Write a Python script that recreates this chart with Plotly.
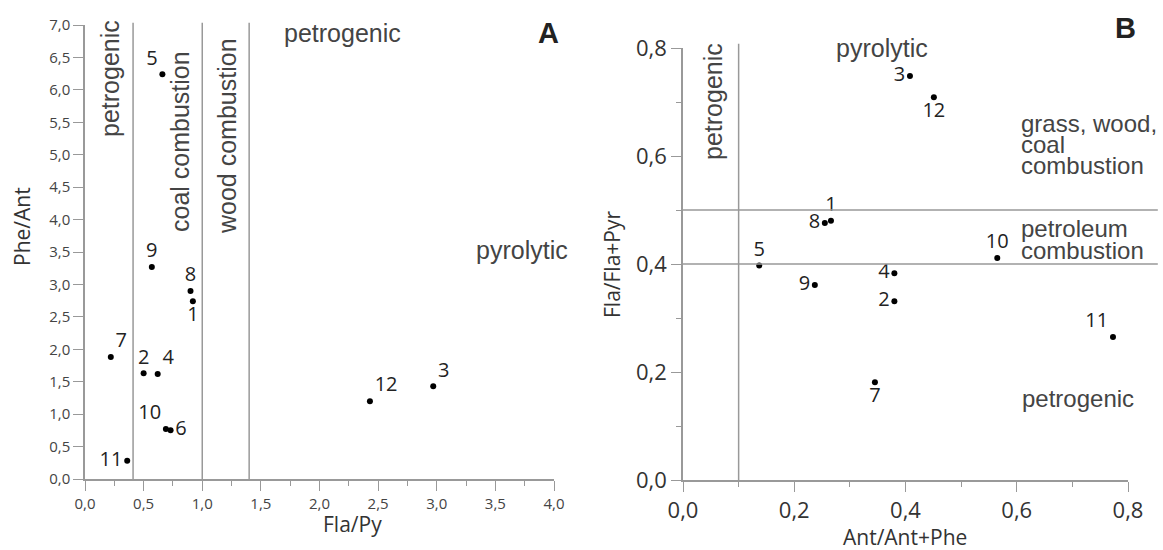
import plotly.graph_objects as go

W, H = 1163, 550

# ---------------- Panel A data ----------------
a_labels = ['1', '2', '3', '4', '5', '6', '7', '8', '9', '10', '11', '12']
a_fla_py = [0.92, 0.50, 2.97, 0.62, 0.66, 0.73, 0.22, 0.90, 0.57, 0.69, 0.36, 2.43]
a_phe_ant = [2.74, 1.63, 1.43, 1.62, 6.24, 0.75, 1.88, 2.90, 3.27, 0.77, 0.28, 1.20]
a_textpos = ['bottom center', 'top center', 'top right', 'top right', 'top left', 'middle right',
             'top right', 'top center', 'top center', 'top left', 'middle left', 'top right']
a_bounds = [0.41, 1.0, 1.4]

# ---------------- Panel B data ----------------
b_labels = ['1', '2', '3', '4', '5', '7', '8', '9', '10', '11', '12']
b_ant_ratio = [0.266, 0.380, 0.408, 0.380, 0.137, 0.345, 0.255, 0.237, 0.565, 0.773, 0.451]
b_fla_ratio = [0.480, 0.331, 0.748, 0.383, 0.397, 0.181, 0.476, 0.361, 0.411, 0.265, 0.709]
b_textpos = ['top center', 'middle left', 'middle left', 'middle left', 'top center', 'bottom center',
             'middle left', 'middle left', 'top center', 'top left', 'bottom center']
b_vbound = [0.1]
b_hbounds = [0.4, 0.5]

AXC = '#999999'
TXT = '#444444'
TICKF = 'Open Sans'
REGF = 'Liberation Sans, Arial'


def px(x, y):
    return x / W, 1 - y / H


fig = go.Figure()

fig.add_trace(go.Scatter(
    x=a_fla_py, y=a_phe_ant, mode='markers+text', text=a_labels, textposition=a_textpos,
    marker=dict(color='black', size=6), textfont=dict(family=TICKF, size=20, color='#222222'),
    cliponaxis=False, xaxis='x', yaxis='y', showlegend=False))

fig.add_trace(go.Scatter(
    x=b_ant_ratio, y=b_fla_ratio, mode='markers+text', text=b_labels, textposition=b_textpos,
    marker=dict(color='black', size=6), textfont=dict(family=TICKF, size=20, color='#222222'),
    cliponaxis=False, xaxis='x2', yaxis='y2', showlegend=False))

shapes = []
for v in a_bounds:
    shapes.append(dict(type='line', xref='x', yref='y domain', x0=v, x1=v, y0=0, y1=1.005,
                       line=dict(color=AXC, width=1.5)))
for v in b_vbound:
    shapes.append(dict(type='line', xref='x2', yref='y2 domain', x0=v, x1=v, y0=0, y1=1.01,
                       line=dict(color=AXC, width=1.5)))
for v in b_hbounds:
    shapes.append(dict(type='line', xref='x2 domain', yref='y2', x0=0, x1=1.067, y0=v, y1=v,
                       line=dict(color=AXC, width=1.5)))

annotations = []


def ann(text, x, y, size=25, angle=0, bold=False, xanchor='center', yanchor='middle', family=REGF,
        color=TXT, align='center'):
    ax_, ay_ = px(x, y)
    if bold:
        text = '<b>' + text + '</b>'
    annotations.append(dict(text=text, x=ax_, y=ay_, xref='paper', yref='paper', showarrow=False,
                            textangle=angle, xanchor=xanchor, yanchor=yanchor, align=align,
                            font=dict(family=family, size=size, color=color)))


# Panel A region labels
ann('petrogenic', 110, 79, angle=-90)
ann('coal combustion', 180, 142, angle=-90)
ann('wood combustion', 227, 136, angle=-90)
ann('petrogenic', 342, 33)
ann('pyrolytic', 522, 250)
ann('A', 548, 33, size=29, bold=True, color='#222222')
# Panel A axis titles
ann('Phe/Ant', 22, 227, size=21, angle=-90, family=TICKF, color='#333333')
ann('Fla/Py', 352, 524, size=21, family=TICKF, color='#333333')

# Panel B region labels
ann('petrogenic', 713, 102, angle=-90)
ann('pyrolytic', 882, 48)
ann('B', 1125, 28, size=29, bold=True, color='#222222')
ann('grass, wood,', 1019, 123, size=24, xanchor='left')
ann('coal', 1019, 144, size=24, xanchor='left')
ann('combustion', 1019, 165, size=24, xanchor='left')
ann('petroleum', 1019, 228, size=24, xanchor='left')
ann('combustion', 1019, 251, size=24, xanchor='left')
ann('petrogenic', 1020, 398, size=24, xanchor='left')
# Panel B axis titles
ann('Fla/Fla+Pyr', 612, 265, size=21, angle=-90, family=TICKF, color='#333333')
ann('Ant/Ant+Phe', 905, 537, size=21, family=TICKF, color='#333333')

# small arrowhead on top of the vertical line in B
annotations.append(dict(x=b_vbound[0], y=0.812, xref='x2', yref='y2', ax=0, ay=12, showarrow=True,
                        arrowhead=2, arrowsize=0.7, arrowwidth=1.2, arrowcolor=AXC, text=''))

common = dict(showgrid=False, zeroline=False, showline=True, linecolor=AXC, linewidth=1.5,
              ticks='outside', tickcolor=AXC, tickwidth=1.3, ticklen=10, tickformat='.1f',
              automargin=False)

fig.update_layout(
    width=W, height=H, margin=dict(l=0, r=0, t=0, b=0),
    paper_bgcolor='white', plot_bgcolor='white', separators=', ',
    shapes=shapes, annotations=annotations,
    xaxis=dict(domain=[85 / W, 554 / W], range=[0, 4], dtick=0.5, anchor='y',
               minor=dict(dtick=0.25, ticks='outside', ticklen=5, tickcolor=AXC),
               tickfont=dict(family=TICKF, size=15, color=TXT), **common),
    yaxis=dict(domain=[1 - 479 / H, 1 - 25 / H], range=[0, 7], dtick=0.5, anchor='x',
               tickfont=dict(family=TICKF, size=15, color=TXT), **common),
    xaxis2=dict(domain=[683 / W, 1128 / W], range=[0, 0.8], dtick=0.2, anchor='y2',
                minor=dict(dtick=0.1, ticks='outside', ticklen=5, tickcolor=AXC),
                tickfont=dict(family=TICKF, size=22, color='#333333'), **common),
    yaxis2=dict(domain=[1 - 480 / H, 1 - 48 / H], range=[0, 0.8], dtick=0.2, anchor='x2',
                minor=dict(dtick=0.1, ticks='outside', ticklen=5, tickcolor=AXC),
                tickfont=dict(family=TICKF, size=22, color='#333333'), **common),
)

fig.write_html('out.html', config={'displayModeBar': False},
               post_script="document.body.style.margin='0';document.body.style.overflow='hidden';")
